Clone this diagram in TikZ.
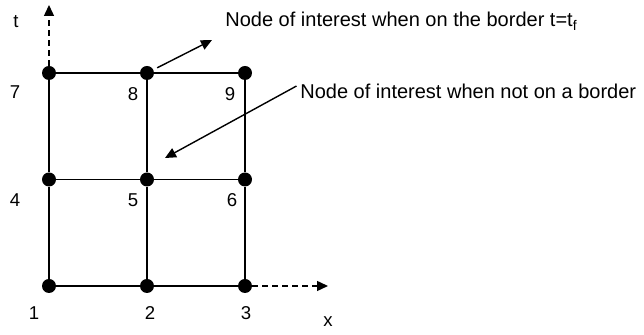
\documentclass[tikz,border=0pt]{standalone}
\usepackage{fontspec}
\setmainfont{Liberation Sans}
\usetikzlibrary{positioning, arrows.meta}

\begin{document}
\begin{tikzpicture}[
    x=0.5pt, y=-0.5pt,
    on grid,
    node distance=53.25pt and 49pt, % vertical and horizontal spacing
    dot/.style={circle, fill=black, inner sep=0pt, minimum size=7pt},
    num/.style={font=\fontsize{9.3}{11}\selectfont, inner sep=0pt},
    note/.style={font=\fontsize{10}{12}\selectfont, inner sep=0pt, anchor=base west},
    grid line/.style={line width=0.75pt},
    axis/.style={dash pattern=on 3pt off 2pt, line width=0.7pt, -{Triangle[length=5.5pt,width=5pt]}},
    pointer/.style={line width=0.7pt, -{Triangle[length=5.5pt,width=5pt]}}
]
    \useasboundingbox (0,0) rectangle (644,335);

    % Place the grid points
    \node[dot] (n7) at (49,73) {};
    \node[dot] (n8) [right=of n7] {};
    \node[dot] (n9) [right=of n8] {};
    \node[dot] (n4) [below=of n7] {};
    \node[dot] (n5) [right=of n4] {};
    \node[dot] (n6) [right=of n5] {};
    \node[dot] (n1) [below=of n4] {};
    \node[dot] (n2) [right=of n1] {};
    \node[dot] (n3) [right=of n2] {};

    % Number the grid points
    \foreach \i/\x/\y in {1/34/313, 2/150/313, 3/246/313,
                          4/15/200, 5/133/200, 6/232/200,
                          7/15/92, 8/133/94, 9/230/94}
        \node[num] (l\i) at (\x,\y) {\i};

    % Draw the grid
    \draw[grid line] (n7) -- (n8) -- (n9);
    \draw[grid line] (n4) -- (n5) -- (n6);
    \draw[grid line] (n1) -- (n2) -- (n3);
    \draw[grid line] (n7) -- (n4) -- (n1);
    \draw[grid line] (n8) -- (n5) -- (n2);
    \draw[grid line] (n9) -- (n6) -- (n3);

    % Draw the axes
    \coordinate (tend) at (49,5);
    \coordinate (xend) at (328,286);
    \draw[axis] (n7) -- (tend);
    \draw[axis] (n3) -- (xend);
    \node[num] (tlab) at (16,22) {t};
    \node[num] (xlab) at (328,322) {x};

    % Draw the notes and their pointers
    \node[note] (border) at (225,27) {Node of interest when on the border t=t\textsubscript{f}};
    \node[note] (inner) at (300,99) {Node of interest when not on a border};
    \coordinate (tip1) at (212,40);
    \coordinate (tip2) at (165,158);
    \draw[pointer, shorten <=2pt] (n8) -- (tip1);
    \draw[pointer, shorten <=2pt] (inner.north west) -- (tip2);
\end{tikzpicture}
\end{document}
